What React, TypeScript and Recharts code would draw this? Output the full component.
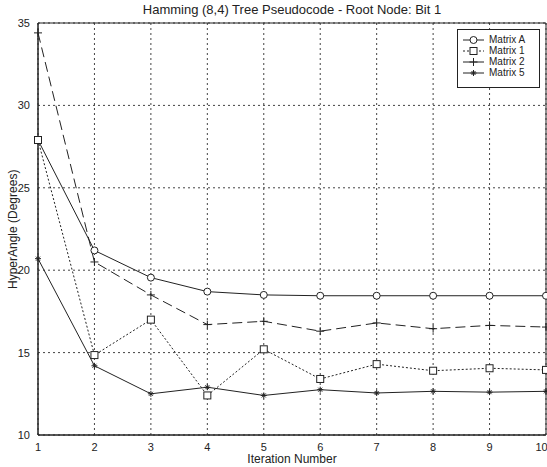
import { CartesianGrid, Line, LineChart, ReferenceArea, XAxis, YAxis } from "recharts"

const iterations = [1, 2, 3, 4, 5, 6, 7, 8, 9, 10]
const matrixA = [27.9, 21.2, 19.55, 18.7, 18.5, 18.45, 18.45, 18.45, 18.45, 18.45]
const matrix1 = [27.9, 14.85, 17.0, 12.4, 15.2, 13.4, 14.3, 13.9, 14.05, 13.95]
const matrix2 = [34.4, 20.5, 18.5, 16.7, 16.9, 16.3, 16.8, 16.45, 16.65, 16.55]
const matrix5 = [20.7, 14.2, 12.5, 12.9, 12.4, 12.75, 12.55, 12.65, 12.6, 12.65]
const yTicks = [10, 15, 20, 25, 30, 35]

const data = iterations.map((it, i) => ({
  it,
  a: matrixA[i],
  m1: matrix1[i],
  m2: matrix2[i],
  m5: matrix5[i],
}))

const font = "'Liberation Sans', Arial, sans-serif"
const ink = "#222"

type DotProps = { cx?: number; cy?: number }

const CircleDot = ({ cx = 0, cy = 0 }: DotProps) => (
  <circle cx={cx} cy={cy} r={3.5} fill="#fff" stroke={ink} strokeWidth={1} />
)
const SquareDot = ({ cx = 0, cy = 0 }: DotProps) => (
  <rect x={cx - 3.5} y={cy - 3.5} width={7} height={7} fill="#fff" stroke={ink} strokeWidth={1} />
)
const PlusDot = ({ cx = 0, cy = 0 }: DotProps) => (
  <path d={`M${cx - 4},${cy}H${cx + 4}M${cx},${cy - 4}V${cy + 4}`} stroke={ink} strokeWidth={1} />
)
const StarDot = ({ cx = 0, cy = 0 }: DotProps) => (
  <path
    d={`M${cx - 3},${cy}H${cx + 3}M${cx},${cy - 3}V${cy + 3}M${cx - 2},${cy - 2}L${cx + 2},${cy + 2}M${cx - 2},${cy + 2}L${cx + 2},${cy - 2}`}
    stroke={ink}
    strokeWidth={1}
  />
)

const legendItems = [
  { name: "Matrix A", dash: undefined, Dot: CircleDot },
  { name: "Matrix 1", dash: "2 2", Dot: SquareDot },
  { name: "Matrix 2", dash: undefined, Dot: PlusDot },
  { name: "Matrix 5", dash: undefined, Dot: StarDot },
]

const LegendBox = () => (
  <div
    style={{
      position: "absolute",
      left: 457,
      top: 29,
      width: 83,
      height: 59,
      boxSizing: "border-box",
      border: "1px solid #222",
      background: "#fff",
      padding: "4px 0 0 5px",
      fontFamily: font,
      fontSize: 10,
      color: "#222",
      whiteSpace: "nowrap",
    }}
  >
    {legendItems.map(({ name, dash, Dot }) => (
      <div key={name} style={{ display: "flex", alignItems: "center", height: 11 }}>
        <svg width={21} height={10} style={{ marginRight: 5 }}>
          <line x1={0} y1={5} x2={21} y2={5} stroke={ink} strokeDasharray={dash} />
          <Dot cx={10.5} cy={5} />
        </svg>
        {name}
      </div>
    ))}
  </div>
)

export default function App() {
  return (
    <div style={{ position: "absolute", left: 0, top: 0, width: 547, height: 467, background: "#fff", overflow: "hidden" }}>
      <div
        style={{
          position: "absolute",
          top: 2,
          left: 38,
          width: 508,
          textAlign: "center",
          fontFamily: font,
          fontSize: 13,
          color: "#222",
        }}
      >
        Hamming (8,4) Tree Pseudocode - Root Node: Bit 1
      </div>
      <LineChart width={547} height={467} data={data} margin={{ top: 23, right: 1, bottom: 0, left: 0 }}>
        <CartesianGrid stroke="#444" strokeDasharray="2 3" />
        <XAxis
          dataKey="it"
          type="number"
          domain={[1, 10]}
          ticks={iterations}
          height={32}
          tickLine={false}
          axisLine={{ stroke: ink }}
          tick={{ fontSize: 11, fill: ink, fontFamily: font }}
          label={{ value: "Iteration Number", position: "insideBottom", offset: 4, fontSize: 12, fill: ink, fontFamily: font }}
        />
        <YAxis
          type="number"
          domain={[10, 35]}
          ticks={yTicks}
          width={38}
          tickLine={false}
          axisLine={{ stroke: ink }}
          tick={{ fontSize: 11, fill: ink, fontFamily: font }}
          label={{ value: "HyperAngle (Degrees)", angle: -90, position: "insideLeft", offset: 13, fontSize: 12, fill: ink, fontFamily: font, dy: 60 }}
        />
        <ReferenceArea x1={1} x2={10} y1={10} y2={35} fill="none" stroke={ink} strokeWidth={1} ifOverflow="visible" />
        <Line dataKey="a" stroke={ink} strokeWidth={1} dot={<CircleDot />} isAnimationActive={false} />
        <Line dataKey="m1" stroke={ink} strokeWidth={1} strokeDasharray="2 2" dot={<SquareDot />} isAnimationActive={false} />
        <Line dataKey="m2" stroke={ink} strokeWidth={1} strokeDasharray="10 5" dot={<PlusDot />} isAnimationActive={false} />
        <Line dataKey="m5" stroke={ink} strokeWidth={1} dot={<StarDot />} isAnimationActive={false} />
      </LineChart>
      <LegendBox />
    </div>
  )
}
